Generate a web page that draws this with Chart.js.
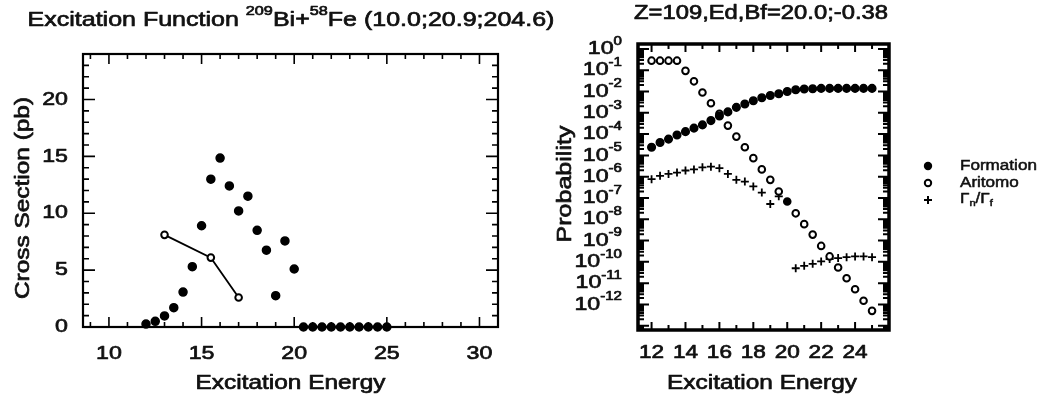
<!DOCTYPE html>
<html lang="en">
<head>
<meta charset="utf-8">
<script src="https://cdn.jsdelivr.net/npm/chart.js"></script>
<title>Excitation Function 209Bi+58Fe</title>
<style>
  html, body { margin: 0; padding: 0; background: #fff; }
  #wrap { position: relative; width: 1045px; height: 400px; }
  canvas { position: absolute; top: 0; }
  #xsChart { left: 0; }
  #probChart { left: 520px; }
</style>
</head>
<body>
<div id="wrap">
  <!-- the left canvas runs under the right one so its long title fits -->
  <canvas id="xsChart" width="600" height="400"></canvas>
  <canvas id="probChart" width="525" height="400"></canvas>
</div>

<script>
// ---- left panel: cross section vs excitation energy ----
const xsEnergy = [12, 12.5, 13, 13.5, 14, 14.5, 15, 15.5, 16, 16.5, 17, 17.5, 18, 18.5,
                  19, 19.5, 20, 20.5, 21, 21.5, 22, 22.5, 23, 23.5, 24, 24.5, 25];
const crossSection = [0.26, 0.5, 0.97, 1.7, 3.07, 5.3, 8.9, 13.0, 14.85, 12.4, 10.2, 11.5, 8.5, 6.75,
                      2.75, 7.57, 5.1, 0, 0, 0, 0, 0, 0, 0, 0, 0, 0];
const measEnergy = [13, 15.5, 17];
const measCross = [8.1, 6.1, 2.6];
const xsXTicks = [10, 15, 20, 25, 30];
const xsYTicks = [0, 5, 10, 15, 20];

// ---- right panel: probabilities (log scale) ----
const probEnergy = [12, 12.5, 13, 13.5, 14, 14.5, 15, 15.5, 16, 16.5, 17, 17.5, 18, 18.5,
                    19, 19.5, 20, 20.5, 21, 21.5, 22, 22.5, 23, 23.5, 24, 24.5, 25];
const formation = [2.4e-5, 4.0e-5, 5.8e-5, 9.1e-5, 1.3e-4, 1.9e-4, 2.7e-4, 4.3e-4, 7.1e-4, 1.1e-3,
                   1.8e-3, 2.6e-3, 3.7e-3, 5.1e-3, 6.5e-3, 7.8e-3, 1.0e-2, 1.2e-2, 1.3e-2, 1.35e-2,
                   1.4e-2, 1.4e-2, 1.4e-2, 1.4e-2, 1.4e-2, 1.4e-2, 1.4e-2];
const aritomo = [2.8e-1, 2.8e-1, 2.8e-1, 2.8e-1, 9.3e-2, 3.0e-2, 8.9e-3, 2.8e-3, 8.9e-4, 2.5e-4,
                 7.6e-5, 2.4e-5, 7.4e-6, 2.2e-6, 7.1e-7, 2.0e-7, 6.8e-8, 1.9e-8, 5.9e-9, 1.9e-9,
                 5.6e-10, 1.8e-10, 5.4e-11, 1.7e-11, 5.2e-12, 1.5e-12, 5.0e-13];
const ratioEnergy = [12, 12.5, 13, 13.5, 14, 14.5, 15, 15.5, 16, 16.5, 17, 17.5, 18, 18.5, 19, 19.5,
                     20.5, 21, 21.5, 22, 22.5, 23, 23.5, 24, 24.5, 25];
const ratio = [7.6e-7, 1.1e-6, 1.35e-6, 1.55e-6, 1.95e-6, 2.2e-6, 2.75e-6, 2.95e-6, 2.5e-6, 1.35e-6,
               7.1e-7, 5.9e-7, 3.5e-7, 1.8e-7, 5.2e-8, 1.2e-7,
               5.0e-11, 6.5e-11, 8.1e-11, 1.05e-10, 1.35e-10, 1.5e-10, 1.65e-10, 1.8e-10, 1.8e-10, 1.65e-10];
const probXTicks = [12, 14, 16, 18, 20, 22, 24];
const probYExp = [0, -1, -2, -3, -4, -5, -6, -7, -8, -9, -10, -11, -12];

const FONT = '"Liberation Sans", Arial, sans-serif';
const STRETCH = 1.22;   // the lettering is set wide
const INK = '#111';

function pts(xs, ys) {
  return xs.map((x, i) => ({ x: x, y: ys[i] }));
}

// parts: [text, shift]; shift 1 = superscript, -1 = subscript
function richWidth(ctx, parts, size) {
  let w = 0;
  for (const [t, s] of parts) {
    ctx.font = (s ? size * 0.65 : size) + 'px ' + FONT;
    w += ctx.measureText(t).width;
  }
  return w * STRETCH;
}

function drawRich(ctx, parts, x, y, size, align) {
  const w = richWidth(ctx, parts, size);
  let cx = align === 'center' ? x - w / 2 : align === 'right' ? x - w : x;
  ctx.save();
  ctx.fillStyle = INK;
  ctx.strokeStyle = INK;
  ctx.lineWidth = size > 16 ? 0.7 : 0.5;
  ctx.lineJoin = 'round';
  ctx.textAlign = 'left';
  ctx.textBaseline = 'middle';
  for (const [t, s] of parts) {
    ctx.font = (s ? size * 0.65 : size) + 'px ' + FONT;
    const dy = s > 0 ? -size * 0.4 : s < 0 ? size * 0.3 : 0;
    ctx.save();
    ctx.translate(cx, y + dy);
    ctx.scale(STRETCH, 1);
    ctx.fillText(t, 0, 0);
    ctx.strokeText(t, 0, 0);
    ctx.restore();
    cx += ctx.measureText(t).width * STRETCH;
  }
  ctx.restore();
}

function drawUp(ctx, parts, x, y, size) {
  ctx.save();
  ctx.translate(x, y);
  ctx.rotate(-Math.PI / 2);
  drawRich(ctx, parts, 0, 0, size, 'center');
  ctx.restore();
}

// frame, inward ticks and labels for the cross section panel
const xsAxes = {
  id: 'xsAxes',
  beforeDatasetsDraw(chart) {
    const { ctx, chartArea: a, scales: { x, y } } = chart;
    ctx.save();
    ctx.strokeStyle = '#000';
    ctx.lineWidth = 2.2;
    ctx.strokeRect(a.left, a.top, a.right - a.left, a.bottom - a.top);
    ctx.lineWidth = 1.6;
    ctx.beginPath();
    for (let v = 9; v <= 31; v++) {
      const px = x.getPixelForValue(v);
      const len = v % 5 === 0 ? 10 : 5;
      ctx.moveTo(px, a.bottom); ctx.lineTo(px, a.bottom - len);
      ctx.moveTo(px, a.top); ctx.lineTo(px, a.top + len);
    }
    for (let v = 1; v <= 23; v++) {
      const py = y.getPixelForValue(v);
      const len = v % 5 === 0 ? 12 : 6;
      ctx.moveTo(a.left, py); ctx.lineTo(a.left + len, py);
      ctx.moveTo(a.right, py); ctx.lineTo(a.right - len, py);
    }
    ctx.stroke();
    ctx.restore();

    xsXTicks.forEach(v => drawRich(ctx, [[String(v), 0]], x.getPixelForValue(v), 354, 19, 'center'));
    xsYTicks.forEach(v => drawRich(ctx, [[String(v), 0]], 68, y.getPixelForValue(v), 19, 'right'));

    drawRich(ctx, [['Excitation Function ', 0], ['209', 1], ['Bi+', 0], ['58', 1], ['Fe (10.0;20.9;204.6)', 0]],
             291, 20, 20.5, 'center');
    drawRich(ctx, [['Excitation Energy', 0]], (a.left + a.right) / 2, 383, 20, 'center');
    drawUp(ctx, [['Cross Section (pb)', 0]], 23, 198, 20);
  }
};

// frame, log ticks, labels and legend for the probability panel
const probAxes = {
  id: 'probAxes',
  beforeDatasetsDraw(chart) {
    const { ctx, chartArea: a, scales: { x, y } } = chart;
    ctx.save();
    ctx.strokeStyle = '#000';
    ctx.lineWidth = 3.5;
    ctx.strokeRect(a.left, a.top, a.right - a.left, a.bottom - a.top);
    ctx.lineWidth = 2;
    ctx.beginPath();
    for (let v = 12; v <= 25; v++) {
      const px = x.getPixelForValue(v);
      const len = v % 2 === 0 ? 8 : 5;
      ctx.moveTo(px, a.bottom); ctx.lineTo(px, a.bottom - len);
      ctx.moveTo(px, a.top); ctx.lineTo(px, a.top + len);
    }
    for (let d = 0; d >= -14; d--) {
      for (let m = 1; m <= 9; m++) {
        const v = m * Math.pow(10, d);
        if (v > y.max || v < y.min) continue;
        const py = y.getPixelForValue(v);
        const len = m === 1 ? 11 : 6;
        ctx.moveTo(a.left, py); ctx.lineTo(a.left + len, py);
        ctx.moveTo(a.right, py); ctx.lineTo(a.right - len, py);
      }
    }
    ctx.stroke();
    ctx.restore();

    probXTicks.forEach(v => drawRich(ctx, [[String(v), 0]], x.getPixelForValue(v), 353, 18.5, 'center'));
    probYExp.forEach(k => drawRich(ctx, [['10', 0], [String(k), 1]], 102, y.getPixelForValue(Math.pow(10, k)), 19, 'right'));

    drawRich(ctx, [['Z=109,Ed,Bf=20.0;-0.38', 0]], 241, 14, 19.5, 'center');
    drawRich(ctx, [['Excitation Energy', 0]], 242, 383, 20, 'center');
    drawUp(ctx, [['Probability', 0]], 45, 184, 20.5);

    // legend
    const lx = 408, tx = 440;
    ctx.save();
    ctx.fillStyle = '#000';
    ctx.strokeStyle = '#000';
    ctx.beginPath(); ctx.arc(lx, 166, 4.2, 0, Math.PI * 2); ctx.fill();
    ctx.lineWidth = 2;
    ctx.beginPath(); ctx.arc(lx, 183, 3.2, 0, Math.PI * 2); ctx.stroke();
    ctx.beginPath();
    ctx.moveTo(lx - 4, 200); ctx.lineTo(lx + 4, 200);
    ctx.moveTo(lx, 196); ctx.lineTo(lx, 204);
    ctx.stroke();
    ctx.restore();
    drawRich(ctx, [[chart.data.datasets[0].label, 0]], tx, 166, 14, 'left');
    drawRich(ctx, [[chart.data.datasets[1].label, 0]], tx, 183, 14, 'left');
    drawRich(ctx, [['Γ', 0], ['n', -1], ['/Γ', 0], ['f', -1]], tx, 199, 14, 'left');
  }
};

const quiet = {
  responsive: false,
  animation: false,
  events: [],
  plugins: { legend: { display: false }, tooltip: { enabled: false } }
};

new Chart(document.getElementById('xsChart'), {
  type: 'scatter',
  data: {
    datasets: [{
      label: 'Cross Section',
      data: pts(xsEnergy, crossSection),
      pointStyle: 'circle',
      pointRadius: 4,
      borderWidth: 1.5,
      backgroundColor: '#000',
      borderColor: '#000',
      clip: false
    }, {
      label: 'Measured',
      data: pts(measEnergy, measCross),
      showLine: true,
      pointStyle: 'circle',
      pointRadius: 3.3,
      borderWidth: 1.8,
      pointBorderWidth: 2,
      backgroundColor: '#fff',
      borderColor: '#000'
    }]
  },
  options: Object.assign({}, quiet, {
    layout: { padding: { left: 83, top: 54, right: 102, bottom: 73 } },
    scales: {
      x: { type: 'linear', min: 8.6, max: 31, display: false },
      y: { type: 'linear', min: 0, max: 24, display: false }
    }
  }),
  plugins: [xsAxes]
});

new Chart(document.getElementById('probChart'), {
  type: 'scatter',
  data: {
    datasets: [{
      label: 'Formation',
      data: pts(probEnergy, formation),
      pointStyle: 'circle',
      pointRadius: 3.8,
      borderWidth: 1.5,
      backgroundColor: '#000',
      borderColor: '#000'
    }, {
      label: 'Aritomo',
      data: pts(probEnergy, aritomo),
      pointStyle: 'circle',
      pointRadius: 3.3,
      borderWidth: 2,
      pointBackgroundColor: probEnergy.map(e => e === 20 ? '#000' : '#fff'),
      borderColor: '#000'
    }, {
      label: 'Γn/Γf',
      data: pts(ratioEnergy, ratio),
      pointStyle: 'cross',
      pointRadius: 4,
      borderWidth: 1.8,
      borderColor: '#000'
    }]
  },
  options: Object.assign({}, quiet, {
    layout: { padding: { left: 118, top: 44, right: 156, bottom: 70 } },
    scales: {
      x: { type: 'linear', min: 11.2, max: 26, display: false },
      y: { type: 'logarithmic', min: Math.pow(10, -13.2), max: Math.pow(10, 0.23), display: false }
    }
  }),
  plugins: [probAxes]
});
</script>
</body>
</html>
